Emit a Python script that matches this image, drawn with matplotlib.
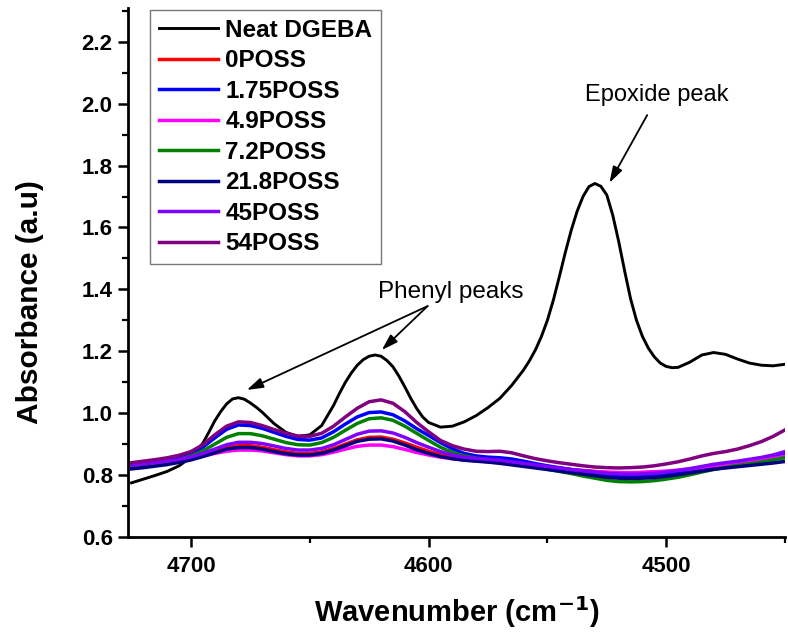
import numpy as np
import matplotlib
matplotlib.use("Agg")
import matplotlib.pyplot as plt
from matplotlib.ticker import MultipleLocator, FormatStrFormatter

plt.rcParams['font.family'] = ['Liberation Sans', 'DejaVu Sans']

# Wavenumber grid (cm^-1) for the POSS samples, 5 cm^-1 steps
wavenumber = np.arange(4725, 4449, -5)

# Neat DGEBA is sampled more finely around its peaks
neat_wavenumber = [4725, 4720, 4715, 4710, 4705, 4700, 4695, 4692.5, 4690, 4687.5,
                   4685, 4682.5, 4680, 4677.5, 4675, 4672.5, 4670, 4665, 4660, 4655,
                   4650, 4645, 4640, 4637.5, 4635, 4632.5, 4630, 4627.5, 4625, 4622.5,
                   4620, 4617.5, 4615, 4612.5, 4610, 4607.5, 4605, 4602.5, 4600, 4595,
                   4590, 4585, 4580, 4575, 4570, 4565, 4560, 4557.5, 4555, 4552.5,
                   4550, 4547.5, 4545, 4542.5, 4540, 4537.5, 4535, 4532.5, 4530, 4527.5,
                   4525, 4522.5, 4520, 4517.5, 4515, 4512.5, 4510, 4507.5, 4505, 4502.5,
                   4500, 4497.5, 4495, 4490, 4485, 4480, 4475, 4470, 4465, 4460,
                   4455, 4450]
neat_dgeba = [0.775, 0.787, 0.799, 0.812, 0.830, 0.858, 0.903, 0.938, 0.975, 1.005,
              1.030, 1.046, 1.050, 1.045, 1.033, 1.019, 1.003, 0.966, 0.938, 0.925,
              0.930, 0.960, 1.025, 1.064, 1.100, 1.130, 1.155, 1.173, 1.184, 1.188,
              1.184, 1.170, 1.150, 1.120, 1.085, 1.048, 1.015, 0.988, 0.970, 0.955,
              0.958, 0.972, 0.992, 1.018, 1.048, 1.090, 1.140, 1.170, 1.205, 1.248,
              1.300, 1.365, 1.440, 1.518, 1.590, 1.652, 1.700, 1.732, 1.742, 1.733,
              1.705, 1.640, 1.555, 1.460, 1.370, 1.300, 1.248, 1.210, 1.182, 1.162,
              1.151, 1.147, 1.148, 1.165, 1.188, 1.196, 1.190, 1.175, 1.162, 1.155,
              1.153, 1.158]

poss_0 = [0.828, 0.832, 0.836, 0.841, 0.847, 0.855, 0.865, 0.877, 0.889, 0.895,
          0.895, 0.890, 0.882, 0.875, 0.870, 0.870, 0.875, 0.886, 0.900, 0.914,
          0.922, 0.923, 0.916, 0.904, 0.890, 0.877, 0.866, 0.858, 0.853, 0.850,
          0.847, 0.844, 0.840, 0.835, 0.830, 0.826, 0.822, 0.818, 0.815, 0.812,
          0.809, 0.808, 0.807, 0.808, 0.809, 0.811, 0.814, 0.818, 0.823, 0.828,
          0.832, 0.836, 0.841, 0.846, 0.852, 0.860]

poss_1_75 = [0.830, 0.835, 0.840, 0.846, 0.855, 0.868, 0.890, 0.920, 0.948, 0.962,
             0.960, 0.951, 0.938, 0.925, 0.915, 0.913, 0.920, 0.940, 0.965, 0.988,
             1.002, 1.004, 0.995, 0.975, 0.950, 0.928, 0.905, 0.885, 0.870, 0.862,
             0.858, 0.856, 0.852, 0.845, 0.837, 0.830, 0.824, 0.818, 0.812, 0.806,
             0.801, 0.798, 0.797, 0.798, 0.800, 0.804, 0.808, 0.814, 0.821, 0.828,
             0.833, 0.838, 0.843, 0.849, 0.857, 0.866]

poss_4_9 = [0.830, 0.834, 0.838, 0.842, 0.847, 0.853, 0.861, 0.870, 0.877, 0.881,
            0.881, 0.878, 0.872, 0.866, 0.862, 0.862, 0.866, 0.874, 0.884, 0.893,
            0.897, 0.897, 0.892, 0.883, 0.873, 0.865, 0.858, 0.853, 0.849, 0.846,
            0.843, 0.840, 0.836, 0.832, 0.828, 0.824, 0.820, 0.817, 0.814, 0.811,
            0.809, 0.808, 0.808, 0.809, 0.811, 0.813, 0.816, 0.820, 0.825, 0.830,
            0.834, 0.838, 0.843, 0.848, 0.854, 0.861]

poss_7_2 = [0.828, 0.832, 0.837, 0.843, 0.851, 0.862, 0.878, 0.900, 0.922, 0.934,
            0.934, 0.927, 0.916, 0.905, 0.898, 0.897, 0.905, 0.922, 0.945, 0.967,
            0.982, 0.985, 0.977, 0.958, 0.935, 0.912, 0.890, 0.873, 0.862, 0.855,
            0.850, 0.846, 0.840, 0.833, 0.826, 0.819, 0.812, 0.805, 0.797, 0.790,
            0.783, 0.779, 0.778, 0.779, 0.782, 0.787, 0.793, 0.801, 0.810, 0.818,
            0.825, 0.831, 0.836, 0.842, 0.849, 0.856]

poss_21_8 = [0.820, 0.824, 0.829, 0.834, 0.841, 0.849, 0.860, 0.872, 0.884, 0.889,
             0.889, 0.884, 0.876, 0.869, 0.865, 0.865, 0.870, 0.881, 0.895, 0.909,
             0.916, 0.917, 0.910, 0.897, 0.882, 0.870, 0.860, 0.853, 0.848, 0.845,
             0.842, 0.838, 0.833, 0.828, 0.823, 0.818, 0.813, 0.808, 0.803, 0.798,
             0.793, 0.790, 0.789, 0.790, 0.792, 0.796, 0.801, 0.807, 0.813, 0.819,
             0.823, 0.827, 0.831, 0.835, 0.839, 0.844]

poss_45 = [0.832, 0.836, 0.840, 0.845, 0.851, 0.859, 0.870, 0.884, 0.898, 0.906,
           0.906, 0.902, 0.894, 0.886, 0.881, 0.881, 0.886, 0.898, 0.915, 0.932,
           0.942, 0.943, 0.936, 0.922, 0.905, 0.890, 0.876, 0.865, 0.858, 0.854,
           0.851, 0.848, 0.843, 0.838, 0.833, 0.828, 0.823, 0.818, 0.814, 0.810,
           0.806, 0.804, 0.803, 0.804, 0.806, 0.810, 0.815, 0.821, 0.828, 0.835,
           0.840, 0.845, 0.851, 0.857, 0.865, 0.876]

poss_54 = [0.840, 0.845, 0.850, 0.856, 0.864, 0.876, 0.898, 0.930, 0.958, 0.972,
           0.970, 0.960, 0.947, 0.935, 0.926, 0.925, 0.935, 0.958, 0.988, 1.016,
           1.037, 1.043, 1.032, 1.005, 0.970, 0.940, 0.912, 0.895, 0.884, 0.877,
           0.876, 0.877, 0.872, 0.862, 0.853, 0.846, 0.840, 0.835, 0.830, 0.826,
           0.824, 0.823, 0.824, 0.826, 0.830, 0.836, 0.843, 0.852, 0.862, 0.870,
           0.876, 0.884, 0.895, 0.908, 0.925, 0.946]

labels = ['Neat DGEBA', '0POSS', '1.75POSS', '4.9POSS', '7.2POSS',
          '21.8POSS', '45POSS', '54POSS']
series = [neat_dgeba, poss_0, poss_1_75, poss_4_9, poss_7_2,
          poss_21_8, poss_45, poss_54]
colors = ['#000000', '#ff0000', '#0000ff', '#ff00ff', '#008000',
          '#000080', '#8000ff', '#800080']

fig = plt.figure(figsize=(7.88, 6.34), dpi=100)
ax = fig.add_axes([128 / 788, 1 - 537 / 634, (785 - 128) / 788, (537 - 8) / 634])

for lab, ys, c in zip(labels, series, colors):
    if lab == 'Neat DGEBA':
        ax.plot(neat_wavenumber, ys, color=c, lw=2.1, label=lab,
                solid_joinstyle='round')
    else:
        ax.plot(wavenumber, ys, color=c, lw=2.5, label=lab,
                solid_joinstyle='round')

ax.set_xlim(4726.5, 4450)
ax.set_ylim(0.6, 2.309)
ax.xaxis.set_major_locator(MultipleLocator(100))
ax.xaxis.set_minor_locator(MultipleLocator(50))
ax.yaxis.set_major_locator(MultipleLocator(0.2))
ax.yaxis.set_minor_locator(MultipleLocator(0.1))
ax.yaxis.set_major_formatter(FormatStrFormatter('%.1f'))

for s in ['top', 'right']:
    ax.spines[s].set_visible(False)
for s in ['left', 'bottom']:
    ax.spines[s].set_linewidth(2.0)

ax.tick_params(which='major', direction='out', length=7, width=1.8,
               labelsize=16, pad=4)
ax.tick_params(which='minor', direction='out', length=4, width=1.6)
ax.tick_params(axis='x', which='major', pad=7)
for t in ax.get_xticklabels() + ax.get_yticklabels():
    t.set_fontweight('bold')

ax.set_xlabel('Wavenumber (cm$^{\\mathbf{-1}}$)', fontsize=21, fontweight='bold', labelpad=12)
ax.set_ylabel('Absorbance (a.u)', fontsize=21.5, fontweight='bold')
ax.yaxis.set_label_coords(-0.128, 0.444)

leg = ax.legend(loc='upper left', bbox_to_anchor=(150 / 788, 1 - 10 / 634),
                bbox_transform=fig.transFigure, borderaxespad=0,
                prop={'weight': 'bold', 'size': 17.5}, frameon=True, fancybox=False,
                handlelength=2.45, handletextpad=0.3, labelspacing=0.31,
                borderpad=0.35)
leg.get_frame().set_edgecolor('#555555')
leg.get_frame().set_linewidth(1.0)

arrow = dict(arrowstyle='-|>,head_length=0.7,head_width=0.22', color='black',
             lw=1.3, mutation_scale=14, shrinkA=0, shrinkB=0)
ax.text(4503.8, 2.028, 'Epoxide peak', fontsize=17, ha='center', va='center')
ax.annotate('', xy=(4523.9, 1.744), xytext=(4508.0, 1.963), arrowprops=arrow)

ax.text(4590.8, 1.392, 'Phenyl peaks', fontsize=17.5, ha='center', va='center')
ax.annotate('', xy=(4619.7, 1.204), xytext=(4600.4, 1.346), arrowprops=arrow)
ax.annotate('', xy=(4676.5, 1.075), xytext=(4600.4, 1.346), arrowprops=arrow)

fig.savefig('out.png', dpi=100)
